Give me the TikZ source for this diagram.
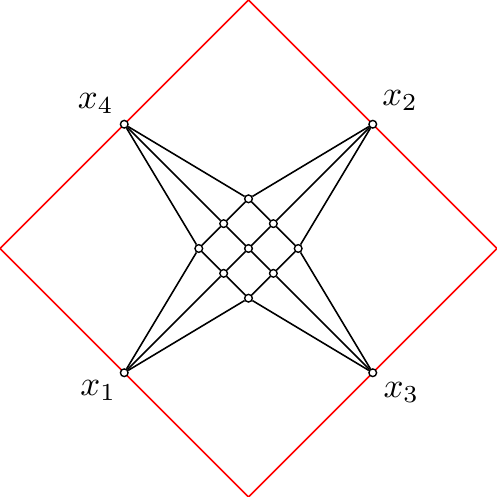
\documentclass[tikz,border=0pt]{standalone}
\begin{document}
\begin{tikzpicture}[x=0.25cm,y=0.25cm,
  pt/.style={circle,draw=black,fill=white,inner sep=0pt,minimum size=2.2pt,line width=0.4pt},
  edge/.style={black,line width=0.45pt},
  frame/.style={red,line width=0.45pt}]
\useasboundingbox (-10,-10) rectangle (10,10);
% frame
\node[inner sep=0,minimum size=0] (t) at (0,10) {};
\node[inner sep=0,minimum size=0] (r) at (10,0) {};
\node[inner sep=0,minimum size=0] (b) at (0,-10) {};
\node[inner sep=0,minimum size=0] (l) at (-10,0) {};
\draw[frame] (t.center) -- (r.center) -- (b.center) -- (l.center) -- cycle;
% points
\node[pt] (x4) at (-5,5) {};
\node[pt] (x2) at (5,5) {};
\node[pt] (x1) at (-5,-5) {};
\node[pt] (x3) at (5,-5) {};
\node[pt] (g1) at (0,2) {};
\node[pt] (g2) at (-1,1) {};
\node[pt] (g3) at (1,1) {};
\node[pt] (g4) at (-2,0) {};
\node[pt] (g5) at (0,0) {};
\node[pt] (g6) at (2,0) {};
\node[pt] (g7) at (-1,-1) {};
\node[pt] (g8) at (1,-1) {};
\node[pt] (g9) at (0,-2) {};
% grid
\draw[edge] (g1) -- (g2); \draw[edge] (g2) -- (g4);
\draw[edge] (g3) -- (g5); \draw[edge] (g5) -- (g7);
\draw[edge] (g6) -- (g8); \draw[edge] (g8) -- (g9);
\draw[edge] (g1) -- (g3); \draw[edge] (g3) -- (g6);
\draw[edge] (g2) -- (g5); \draw[edge] (g5) -- (g8);
\draw[edge] (g4) -- (g7); \draw[edge] (g7) -- (g9);
% corners
\draw[edge] (x4) -- (g1); \draw[edge] (x4) -- (g2); \draw[edge] (x4) -- (g4);
\draw[edge] (x2) -- (g1); \draw[edge] (x2) -- (g3); \draw[edge] (x2) -- (g6);
\draw[edge] (x1) -- (g4); \draw[edge] (x1) -- (g7); \draw[edge] (x1) -- (g9);
\draw[edge] (x3) -- (g6); \draw[edge] (x3) -- (g8); \draw[edge] (x3) -- (g9);
% labels
\node (l4) at (-6.15,5.85) {$x_4$};
\node (l2) at (6.1,5.95) {$x_2$};
\node (l1) at (-6.05,-5.7) {$x_1$};
\node (l3) at (6.15,-5.8) {$x_3$};
\end{tikzpicture}
\end{document}
